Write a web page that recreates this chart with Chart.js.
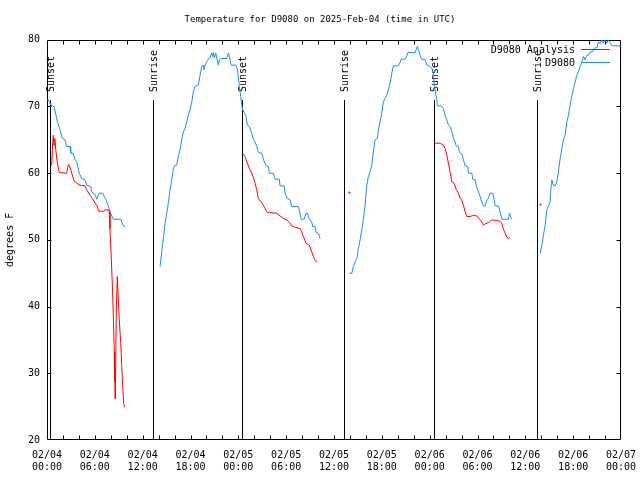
<!DOCTYPE html>
<html>
<head>
<meta charset="utf-8">
<script src="https://cdn.jsdelivr.net/npm/chart.js@4.4.1/dist/chart.umd.min.js"></script>
<style>
html,body{margin:0;padding:0;background:#fff;}
canvas{display:block;}
</style>
</head>
<body>
<canvas id="c" width="640" height="480"></canvas>
<script>
// ---------- data ----------
const chartTitle = 'Temperature for D9080 on 2025-Feb-04 (time in UTC)';
const yAxisTitle = 'degrees F';
const analysisLabel = 'D9080 Analysis';
const stationLabel = 'D9080';

// x tick labels (every 6 hours from 02/04 00:00)
const xTickDates = ['02/04','02/04','02/04','02/04','02/05','02/05','02/05','02/05','02/06','02/06','02/06','02/06','02/07'];
const xTickTimes = ['00:00','06:00','12:00','18:00','00:00','06:00','12:00','18:00','00:00','06:00','12:00','18:00','00:00'];

// sunrise / sunset markers (hours since 02/04 00:00 UTC)
const sunHours  = [0.42, 13.33, 24.5, 37.3, 48.6, 61.42];
const sunLabels = ['Sunset','Sunrise','Sunset','Sunrise','Sunset','Sunrise'];

// D9080 Analysis (hours since 02/04 00:00, degrees F); null = gap
const analysisHours = [
  0.46,0.6,0.67,0.79,0.88,0.98,1.1,1.3,1.54,2.47,2.67,2.8,3.1,3.42,3.72,4.14,4.77,4.98,5.4,5.69,5.94,6.23,6.52,7.06,7.28,7.69,7.82,7.9,8.07,8.22,8.34,8.44,8.49,8.53,8.57,8.7,8.82,8.95,9.07,9.25,9.37,9.5,9.62,9.75,
  11,
  24.63,24.84,25.13,25.38,25.68,25.97,26.31,26.51,26.94,27.35,27.64,28.82,29.23,29.65,30.08,30.49,30.7,31.12,31.74,31.96,32.16,32.5,32.91,33.21,33.41,33.63,33.91,
  35, 37.93, 40,
  48.68,49.31,49.72,49.94,50.15,50.35,50.56,50.78,51.07,51.32,51.61,51.82,52.03,52.23,52.45,52.66,53.07,53.49,53.91,54.24,54.54,54.74,54.96,55.37,55.8,56.42,56.84,57.05,57.25,57.47,57.68,57.88,58.0,
  60, 61.9
];
const analysisTemps = [
  61.2,61.2,63.6,65.7,64.2,65.2,63.5,61.5,60.1,60.0,61.3,61.2,60.0,58.8,58.5,58.2,58.1,57.5,56.7,56.2,55.7,55.2,54.3,54.3,54.5,54.5,54.2,51.7,47.1,42.5,37.7,33.2,28.7,30.8,26.2,39.8,44.5,41.0,38.0,34.5,31.3,28.0,25.5,24.9,
  null,
  62.9,62.5,61.5,60.7,60.0,59.1,57.5,56.2,55.6,54.7,54.1,54.0,53.6,53.2,53.0,52.5,52.1,51.9,51.7,51.2,50.5,49.5,49.2,48.2,47.5,46.9,46.7,
  null, 57.1, null,
  64.5,64.5,64.2,63.7,62.7,61.5,60.2,58.7,58.5,57.6,57.0,56.2,56.0,55.2,54.2,53.5,53.5,53.7,53.6,53.1,52.7,52.2,52.4,52.6,53.0,52.9,52.8,52.5,51.6,51.0,50.4,50.2,50.4,
  null, 55.3
];

// D9080 station observations
const stationHours = [
  0,0.16,0.5,0.88,1.13,1.29,1.5,1.71,1.92,2.26,2.47,2.89,2.97,3.3,3.43,3.73,3.85,4.05,4.35,4.77,4.98,5.48,5.61,6.02,6.23,6.56,6.98,7.4,7.69,7.9,8.32,9.25,9.57,9.79,
  11,
  14.18,14.39,14.59,14.81,15.02,15.22,15.43,15.65,15.85,16.06,16.27,16.47,16.69,16.9,17.1,17.31,17.53,17.73,17.94,18.16,18.36,18.57,18.98,19.2,19.41,19.61,19.7,19.82,20.04,20.24,20.45,20.66,20.79,20.87,20.99,21.17,21.29,21.49,21.62,21.79,22.55,22.75,22.87,23.09,23.71,23.88,24.0,24.13,24.3,24.43,24.55,24.72,24.93,25.13,25.38,
  25.68,25.88,26.1,26.31,26.51,26.94,27.14,27.48,27.77,27.89,28.39,28.61,29.15,29.23,29.74,29.86,30.15,30.49,30.7,31.53,31.74,31.87,32.25,32.5,32.66,32.91,33.21,33.34,33.63,33.75,34.04,34.25,
  36,
  37.93,38.23,38.43,38.65,38.86,39.06,39.27,39.49,39.69,39.9,40.11,40.31,40.53,40.74,40.94,41.15,41.44,41.57,41.78,41.99,42.2,42.41,42.62,42.82,43.04,43.25,43.45,44.08,44.29,44.42,44.92,45.13,45.26,46.17,46.46,46.59,46.8,47.01,47.43,47.64,47.97,48.27,48.4,48.5,48.6,48.75,48.9,48.97,49.44,
  49.72,49.94,50.15,50.35,50.56,50.85,50.98,51.19,51.32,51.61,51.73,52.03,52.23,52.45,52.79,52.86,53.29,53.41,53.7,53.83,54.12,54.33,54.54,54.74,54.96,55.17,55.37,55.58,55.92,56.09,56.21,56.63,56.84,57.05,57.88,58.0,58.18,58.31,
  60,
  61.86,62.07,62.27,62.48,62.7,62.9,63.11,63.24,63.32,63.53,63.74,63.95,64.15,64.37,64.58,64.78,64.99,65.21,65.41,65.62,65.83,66.04,66.25,66.46,66.66,66.88,67.09,67.29,67.5,67.72,67.92,68.13,68.42,68.54,68.76,68.97,69.17,69.39,69.6,69.8,70.01,70.23,70.43,70.65,70.86,71.06,71.95
];
const stationTemps = [
  71,71,70.2,70,68.7,67.8,67,66.2,65.2,65,64,64,63,63,62.2,61.7,61,60,59.2,59,58.2,58,57.2,56.8,56.1,57,57,56,55.1,54.2,53.1,53.1,52.1,52,
  null,
  46,48.2,50.2,52.5,54,55.5,57.5,59,60.7,61.2,61.2,62.5,63.5,65,66.2,66.7,67.7,68.7,69.5,70.7,72.2,73,73.2,74.7,76,76.2,75.5,76.2,76.7,77.1,77.3,78,77.5,78.1,77.3,78,77.3,76.2,77,77.2,77.2,78,77.5,76.2,76.2,75.5,74.5,73,71.5,70.2,69.5,69.1,68.7,67.2,67,
  66,65.1,64.7,64,63.1,63,62.1,61.1,61,60,60,59.1,59.1,58.1,58.1,57,56.2,56,55,55,54,53.1,53.1,54,54,53.1,52.7,52,52,51.1,51,50.2,
  null,
  45,45,46,46.7,47.2,48.7,50,51.5,53.2,55.2,58.2,59.5,60.2,61.2,63.2,65,65.2,66.5,67.7,69,70.7,71.2,71.7,72.5,73.5,75,76.1,76.1,76.6,77.1,77.1,77.6,78.1,78.1,79,78.5,77.7,77.1,77,76.2,76.1,75.7,75.2,74.5,73,72,71,70.1,70.1,
  69.7,68.7,68,67.2,67,66,65.2,64.7,64.1,64,63.1,62.9,62,61.1,61,60,60,59.1,59,58.2,57.2,56.5,55.7,55.1,55.1,56,56.2,57,57,56,55.1,55.1,54.2,53.1,53.1,54,53.4,53.1,
  null,
  48,49.2,50.7,52.2,54.5,55.1,55.7,58.2,59,58.2,58.1,58.7,60.2,62.2,63.7,65,65.7,67.7,68.7,70.2,71.5,72.7,73.7,74.7,75.2,76,76.7,77.5,77,77.7,77.7,78.2,78.2,78.5,78.8,78.8,79.7,79.4,80,79.5,80,79.5,80,79.5,79.1,79.1,79.1
];

const analysisColor = '#ff0000';
const stationColor = '#1e88ff';

// ---------- helpers ----------
function toPoints(hours, temps) {
  return hours.map((h, i) => ({ x: h, y: temps[i] }));
}
function isolatedRadius(ctx) {
  const d = ctx.dataset.data, i = ctx.dataIndex;
  const p = d[i - 1], n = d[i + 1];
  const pv = p && p.y != null, nv = n && n.y != null;
  return (!pv && !nv && d[i] && d[i].y != null) ? 1 : 0;
}

const FONT = "'DejaVu Sans Mono', 'Liberation Mono', monospace";
Chart.defaults.font.family = FONT;
Chart.defaults.font.size = 10;
Chart.defaults.color = '#000';

const frameAndSun = {
  id: 'frameAndSun',
  beforeDatasetsDraw(chart) {
    const { ctx, chartArea: a, scales: { x, y } } = chart;
    const L = Math.round(a.left) + 0.5, R = Math.round(a.right) - 0.5;
    const T = Math.round(a.top) + 0.5, B = Math.round(a.bottom) - 0.5;
    ctx.save();
    ctx.strokeStyle = '#000';
    ctx.lineWidth = 1;
    ctx.beginPath();
    ctx.rect(L, T, R - L, B - T);
    const minorStep = 2;
    for (let h = x.min + minorStep; h < x.max; h += minorStep) {
      const px = Math.round(x.getPixelForValue(h)) + 0.5;
      ctx.moveTo(px, B); ctx.lineTo(px, B - 4);
      ctx.moveTo(px, T); ctx.lineTo(px, T + 4);
    }
    y.ticks.forEach(t => {
      if (t.value <= y.min || t.value >= y.max) return;
      const py = Math.round(y.getPixelForValue(t.value)) + 0.5;
      ctx.moveTo(L, py); ctx.lineTo(L + 4, py);
      ctx.moveTo(R, py); ctx.lineTo(R - 4, py);
    });
    ctx.stroke();

    // sunrise / sunset lines and labels
    const lineTop = Math.round(y.getPixelForValue(71));
    ctx.beginPath();
    sunHours.forEach(h => {
      const px = Math.round(x.getPixelForValue(h)) + 0.5;
      ctx.moveTo(px, lineTop); ctx.lineTo(px, B);
    });
    ctx.stroke();
    ctx.fillStyle = '#000';
    ctx.font = '10px ' + FONT;
    ctx.textAlign = 'left';
    ctx.textBaseline = 'middle';
    sunHours.forEach((h, i) => {
      const px = Math.round(x.getPixelForValue(h)) + 1;
      ctx.save();
      ctx.translate(px, lineTop - 8);
      ctx.rotate(-Math.PI / 2);
      ctx.fillText(sunLabels[i], 0, 0);
      ctx.restore();
    });
    ctx.restore();
  },
  afterDatasetsDraw(chart) {
    const { ctx, chartArea: a } = chart;
    ctx.save();
    ctx.font = '10px ' + FONT;
    ctx.textAlign = 'right';
    ctx.textBaseline = 'middle';
    ctx.fillStyle = '#000';
    ctx.lineWidth = 1;
    chart.data.datasets.forEach((ds, i) => {
      const yy = Math.round(a.top + 10 + i * 13) - 0.5;
      ctx.fillText(ds.label, a.right - 46, yy + 1);
      ctx.strokeStyle = ds.borderColor;
      ctx.beginPath();
      ctx.moveTo(a.right - 40, yy);
      ctx.lineTo(a.right - 11, yy);
      ctx.stroke();
    });
    ctx.restore();
  }
};

new Chart(document.getElementById('c'), {
  type: 'line',
  data: {
    datasets: [
      {
        label: analysisLabel,
        data: toPoints(analysisHours, analysisTemps),
        borderColor: analysisColor,
        backgroundColor: analysisColor,
        borderWidth: 1,
        pointRadius: isolatedRadius,
        pointBorderWidth: 0,
        pointBackgroundColor: analysisColor,
        pointHoverRadius: 0,
        tension: 0,
        fill: false,
        spanGaps: false
      },
      {
        label: stationLabel,
        data: toPoints(stationHours, stationTemps),
        borderColor: stationColor,
        backgroundColor: stationColor,
        borderWidth: 1,
        pointRadius: isolatedRadius,
        pointBorderWidth: 0,
        pointBackgroundColor: stationColor,
        pointHoverRadius: 0,
        tension: 0,
        fill: false,
        spanGaps: false
      }
    ]
  },
  options: {
    responsive: false,
    animation: false,
    devicePixelRatio: 1,
    events: [],
    layout: { padding: 0 },
    plugins: {
      legend: { display: false },
      tooltip: { enabled: false },
      title: {
        display: true,
        text: chartTitle,
        color: '#000',
        font: { size: 9, weight: 'normal', family: FONT, lineHeight: 1.2 },
        padding: { top: 14, bottom: 15 }
      }
    },
    scales: {
      x: {
        type: 'linear',
        position: 'bottom',
        min: 0,
        max: 72,
        grid: { display: false, drawTicks: false },
        border: { display: false },
        afterFit(scale) { scale.height = 40; scale.paddingLeft = 0; scale.paddingRight = 0; },
        ticks: {
          stepSize: 6,
          autoSkip: false,
          maxRotation: 0,
          minRotation: 0,
          padding: 9,
          font: { size: 10, family: FONT, lineHeight: 1.2 },
          callback: (v) => { const i = Math.round(v / 6); return [xTickDates[i], xTickTimes[i]]; }
        }
      },
      y: {
        type: 'linear',
        position: 'left',
        min: 20,
        max: 80,
        grid: { display: false, drawTicks: false },
        border: { display: false },
        afterFit(scale) { scale.width = 47; },
        ticks: { stepSize: 10, padding: 7, font: { size: 10, family: FONT } },
        title: {
          display: true,
          text: yAxisTitle,
          color: '#000',
          font: { size: 10, family: FONT, lineHeight: 1.2 },
          padding: { top: 4, bottom: 0 }
        }
      },
      yRight: {
        type: 'linear',
        position: 'right',
        display: true,
        min: 20,
        max: 80,
        grid: { display: false, drawTicks: false },
        border: { display: false },
        ticks: { display: false },
        afterFit(scale) { scale.width = 19; }
      }
    }
  },
  plugins: [frameAndSun]
});
</script>
</body>
</html>
